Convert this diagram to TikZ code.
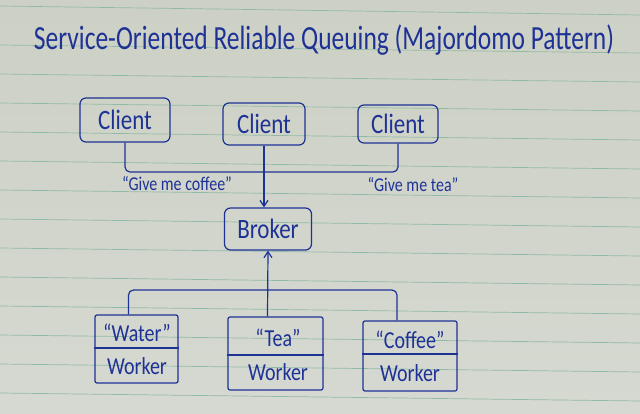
\documentclass[tikz,border=0pt]{standalone}
\usepackage{fontspec}
\setmainfont{Carlito}
\usetikzlibrary{arrows.meta}
\definecolor{papera}{RGB}{205,208,196}
\definecolor{paperb}{RGB}{214,217,209}
\definecolor{ruling}{RGB}{145,186,166}
\definecolor{ink}{RGB}{30,50,150}
\newcommand{\tall}[1]{\scalebox{1}[1.22]{#1}}
\tikzset{
  box/.style={draw=ink, line width=1.2pt, rounded corners=6pt, inner sep=0pt, text=ink,
              font=\fontsize{23}{23}\selectfont},
  wbox/.style={draw=ink, line width=1.2pt, rounded corners=2pt, inner sep=0pt},
  wtxt/.style={text=ink, inner sep=0pt, font=\fontsize{20}{20}\selectfont},
  lbl/.style={text=ink, inner sep=0pt, font=\fontsize{16}{16}\selectfont},
  wire/.style={draw=ink, line width=1.2pt},
  tip/.style={-{Straight Barb[length=6pt,width=8pt]}},
}
\begin{document}
\begin{tikzpicture}[x=1pt,y=-1pt]
\shade[top color=papera, bottom color=paperb] (0,0) rectangle (640,414);
\useasboundingbox (0,0) rectangle (640,414);
\draw[ruling, line width=0.7pt] (0,6) -- (640,15);
\foreach \yy in {45,74,...,393} \draw[ruling, line width=0.7pt] (0,\yy) -- (640,\yy+8);

\node[text=ink, inner sep=0pt, font=\fontsize{26}{26}\selectfont] (title) at (324,40)
  {\scalebox{0.98}[1.3]{Service-Oriented Reliable Queuing (Majordomo Pattern)}};

\node[box, minimum width=90pt, minimum height=44pt] (c1) at (125,120) {\tall{Client}};
\node[box, minimum width=82pt, minimum height=42pt] (c2) at (264,124) {\tall{Client}};
\node[box, minimum width=80pt, minimum height=38pt] (c3) at (398,124) {\tall{Client}};
\node[box, minimum width=87pt, minimum height=42pt] (broker) at (268,229) {\tall{Broker}};

\coordinate (cbus) at (265,172);
\draw[wire, rounded corners=5pt] (c1.south) |- (cbus) -| (c3.south);
\draw[wire, tip] (c2.south) -- (c2.south |- broker.north);

\node[lbl] (l1) at (177,184) {\tall{“Give me coffee”}};
\node[lbl] (l2) at (413,185) {\tall{“Give me tea”}};

\node[wbox, minimum width=83pt, minimum height=68pt] (water) at (136.5,349) {};
\node[wbox, minimum width=95pt, minimum height=73pt] (tea) at (275.5,353.5) {};
\node[wbox, minimum width=94pt, minimum height=70pt] (coffee) at (410,356) {};
\draw[wire] (water.west |- 0,348) -- (water.east |- 0,348);
\draw[wire] (tea.west |- 0,355) -- (tea.east |- 0,355);
\draw[wire] (coffee.west |- 0,354) -- (coffee.east |- 0,354);

\node[wtxt] (wn) at (137,333) {\tall{“Water”}};
\node[wtxt] (ww) at (137,366) {\tall{Worker}};
\node[wtxt] (tn) at (278,338) {\tall{“Tea”}};
\node[wtxt] (tw) at (278,372) {\tall{Worker}};
\node[wtxt] (cn) at (410,340) {\tall{“Coffee”}};
\node[wtxt] (cw) at (410,373) {\tall{Worker}};

\coordinate (wbus) at (267,290);
\draw[wire, rounded corners=5pt] ([xshift=-8pt]water.north) |- (wbus) -| ([xshift=-13pt]coffee.north);
\draw[wire, tip] ([xshift=-8pt]tea.north) -- (broker.south);
\end{tikzpicture}
\end{document}
